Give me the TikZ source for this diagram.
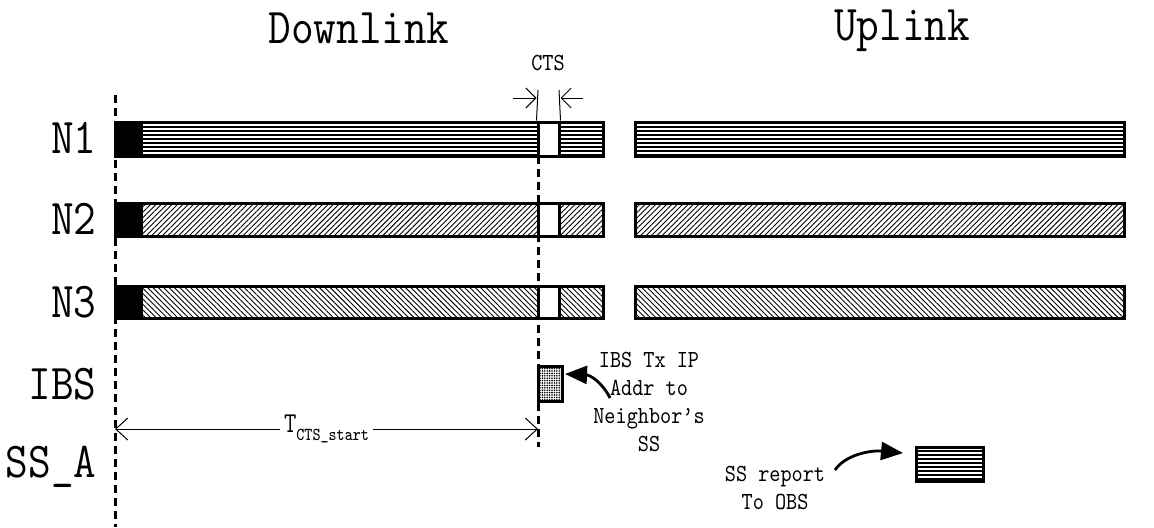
\documentclass[tikz,border=0pt]{standalone}
\usetikzlibrary{patterns.meta,arrows.meta,fit}
\begin{document}
\begin{tikzpicture}[x=0.5pt,y=-0.5pt,
  bar/.style={draw, line width=1.5pt, inner sep=0pt},
  hpat/.style={pattern={Lines[angle=0,distance=2pt,line width=1.1pt]}},
  rpat/.style={pattern={Lines[angle=45,distance=1.9pt,line width=0.45pt]}},
  lpat/.style={pattern={Lines[angle=-45,distance=1.9pt,line width=0.45pt]}},
  dpat/.style={pattern={Dots[distance=1.2pt,radius=0.45pt]}},
  blk/.style={fill=black, inner sep=0pt},
  ctsbox/.style={draw, fill=white, line width=1.5pt, inner sep=0pt},
  big/.style={font=\fontsize{22}{26}\fontseries{l}\selectfont\ttfamily, inner sep=0pt, yscale=1.14},
  small/.style={font=\fontsize{10.6}{12}\fontseries{l}\selectfont\ttfamily, inner sep=0pt, align=center, yscale=1.16},
  dashln/.style={line width=1.5pt, dash pattern=on 4pt off 2.5pt},
  thinln/.style={line width=0.5pt},
  barb/.style={-{Straight Barb[length=5pt,width=10pt]}},
  dimarr/.style={{Straight Barb[length=6pt,width=11pt]}-{Straight Barb[length=6pt,width=11pt]}},
  curvarr/.style={line width=1.4pt, -{Triangle[length=11pt,width=9pt]}}]
\useasboundingbox (0,0) rectangle (1154,527);

% dashed time lines
\coordinate (ltop) at (115,95);
\coordinate (lbot) at (115,527);
\draw[dashln] (ltop) -- (lbot);
\coordinate (mtop) at (538,156);
\coordinate (mbot) at (538,447);
\draw[dashln] (mtop) -- (mbot);

% titles
\node[big, anchor=base] (dl) at (359,43) {Downlink};
\node[big, anchor=base] (ul) at (902,40) {Uplink};

% row labels
\node[big, anchor=base east] (l1) at (97,153) {N1};
\node[big, anchor=base east] (l2) at (97,234) {N2};
\node[big, anchor=base east] (l3) at (97,317) {N3};
\node[big, anchor=base east] (l4) at (97,399) {IBS};
\node[big, anchor=base east] (l5) at (97,477) {SS\_A};

% N1
\node[bar, hpat, fit={(115,122)(603,156)}] (n1d) {};
\node[blk, fit={(115,122)(143,156)}] (n1k) {};
\node[ctsbox, fit={(538,122)(559,156)}] (c1) {};
\node[bar, hpat, fit={(635,122)(1124,156)}] (n1u) {};
% N2
\node[bar, rpat, fit={(115,203)(603,236)}] (n2d) {};
\node[blk, fit={(115,203)(143,236)}] (n2k) {};
\node[ctsbox, fit={(538,203)(559,236)}] (c2) {};
\node[bar, rpat, fit={(635,203)(1124,236)}] (n2u) {};
% N3
\node[bar, lpat, fit={(115,286)(603,318)}] (n3d) {};
\node[blk, fit={(115,286)(143,318)}] (n3k) {};
\node[ctsbox, fit={(538,286)(559,318)}] (c3) {};
\node[bar, lpat, fit={(635,286)(1124,318)}] (n3u) {};

% IBS box
\node[bar, dpat, fit={(538,366)(562,401)}] (ibs) {};
% SS_A box
\node[bar, hpat, fit={(916,447)(983,481)}] (ssa) {};

% CTS marker
\node[small, anchor=base] (cts) at (548,70) {CTS};
\coordinate (ctsL) at (538,90);
\coordinate (ctsR) at (559,90);
\draw[thinln] (ctsL) -- (c1.north west);
\draw[thinln] (ctsR) -- (c1.north east);
\coordinate (aL) at (513,98);
\coordinate (aR) at (583,98);
\draw[thinln, barb] (aL) -- (aL -| c1.west);
\draw[thinln, barb] (aR) -- (aR -| c1.east);

% T_CTS_start
\coordinate (tA) at (115,429);
\coordinate (tB) at (538,429);
\draw[thinln, dimarr] (tA) -- node[fill=white, inner xsep=2pt, inner ysep=0pt, yscale=1.2, font=\fontseries{l}\selectfont\ttfamily] (tlab)
  {{\fontsize{12}{12}\selectfont T}\raisebox{-0.7ex}{\fontsize{7.6}{8}\selectfont CTS\_start}} (tB);

% annotations
\node[small, anchor=north] (ibstxt) at (649,352) {IBS Tx IP\\Addr to\\Neighbor’s\\SS};
\node[small, anchor=north] (sstxt) at (775,466) {SS report\\To OBS};

\coordinate (ia) at (610,398);
\coordinate (ib) at (565,374);
\draw[curvarr] (ia) .. controls (602,382) and (590,375) .. (ib);
\coordinate (sa) at (835,470);
\coordinate (sb) at (903,453);
\draw[curvarr] (sa) .. controls (845,455) and (870,450) .. (sb);
\end{tikzpicture}
\end{document}
